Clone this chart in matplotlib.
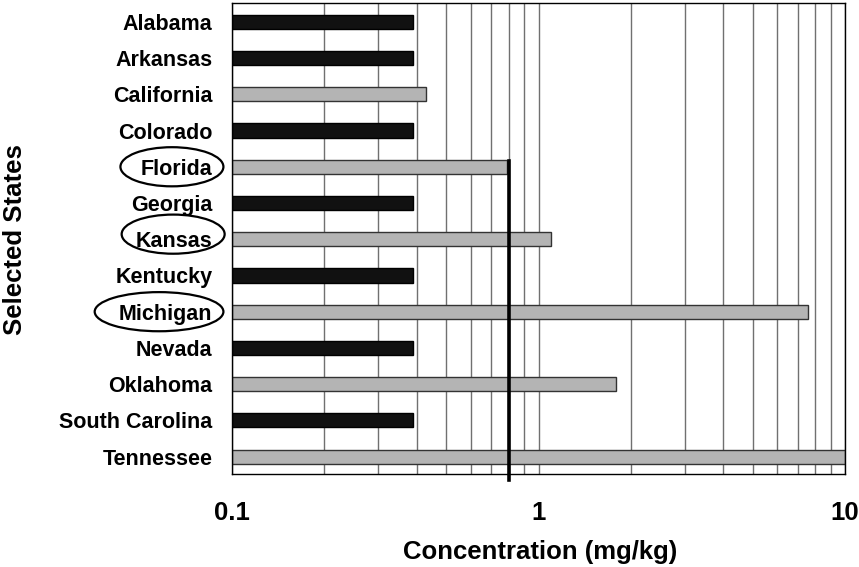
import matplotlib
matplotlib.use('Agg')
import matplotlib.pyplot as plt
import matplotlib.transforms as mtransforms
from matplotlib.patches import Ellipse
from matplotlib.ticker import LogLocator, NullFormatter

plt.rcParams['font.family'] = ['Liberation Sans', 'DejaVu Sans']
plt.rcParams['font.weight'] = 'bold'

states = ['Alabama', 'Arkansas', 'California', 'Colorado', 'Florida', 'Georgia',
          'Kansas', 'Kentucky', 'Michigan', 'Nevada', 'Oklahoma',
          'South Carolina', 'Tennessee']
conc = [0.39, 0.39, 0.43, 0.39, 0.79, 0.39, 1.1, 0.39, 7.55, 0.39, 1.79, 0.39, 10.0]
dark = [True, True, False, True, False, True, False, True, False, True, False, True, False]
circled = ['Florida', 'Kansas', 'Michigan']
ref_value = 0.8
xticks = [0.1, 1, 10]
xtick_labels = ['0.1', '1', '10']

fig = plt.figure(figsize=(8.59, 5.67), dpi=100)
ax = fig.add_axes([232 / 859, 1 - 474 / 567, 613 / 859, 471 / 567])

ypos = list(range(len(states)))
colors = ['#111111' if d else '#b4b4b4' for d in dark]
edges = ['#000000' if d else '#333333' for d in dark]
# bars start at the left edge of the log axis
ax.barh(ypos, [c - 0.1 for c in conc], left=0.1, height=0.39,
        color=colors, edgecolor=edges, linewidth=1, zorder=2)

ax.set_xscale('log')
ax.set_xlim(0.1, 10)
ax.set_ylim(12.48, -0.52)

# grid at every 1..9 multiple
ax.xaxis.set_major_locator(LogLocator(base=10, subs=range(1, 10)))
ax.xaxis.set_major_formatter(NullFormatter())
ax.xaxis.set_minor_locator(LogLocator(base=10, subs=range(1, 10)))
ax.xaxis.set_minor_formatter(NullFormatter())
ax.grid(axis='x', which='both', color='#707070', linewidth=1, zorder=0)
ax.set_axisbelow(True)
ax.tick_params(axis='x', which='both', length=0)

xt = mtransforms.blended_transform_factory(ax.transData, ax.transAxes)
for xv, lab in zip(xticks, xtick_labels):
    ax.text(xv, 1 - (513 - 3) / 471, lab, transform=xt,
            ha='center', va='center', fontsize=18.5, fontweight='bold')

ax.set_yticks(ypos)
ax.set_yticklabels(states, fontsize=15.5, fontweight='bold')
ax.tick_params(axis='y', length=0, pad=14)

for sp in ax.spines.values():
    sp.set_color('black')
    sp.set_linewidth(1)

# reference line
ax.plot([ref_value, ref_value], [3.85, 12.65], color='black', linewidth=2.6,
        clip_on=False, zorder=4)

# ellipses around highlighted state labels
trans = mtransforms.blended_transform_factory(ax.transAxes, ax.transData)
ell_specs = {'Florida': (-0.098, 0.168, 0.0), 'Kansas': (-0.096, 0.168, -0.14),
             'Michigan': (-0.119, 0.21, 0.0)}
for name in circled:
    cx, w, dy = ell_specs[name]
    i = states.index(name)
    e = Ellipse((cx, i + dy), w, 1.08, transform=trans, fill=False,
                edgecolor='black', linewidth=1.6, clip_on=False)
    ax.add_patch(e)

fig.text(540 / 859, 1 - 552 / 567, 'Concentration (mg/kg)', ha='center', va='center',
         fontsize=18.5, fontweight='bold')
fig.text(15 / 859, 1 - 240 / 567, 'Selected States', ha='center', va='center',
         rotation=90, fontsize=18.5, fontweight='bold')

fig.savefig('out.png', dpi=100)
